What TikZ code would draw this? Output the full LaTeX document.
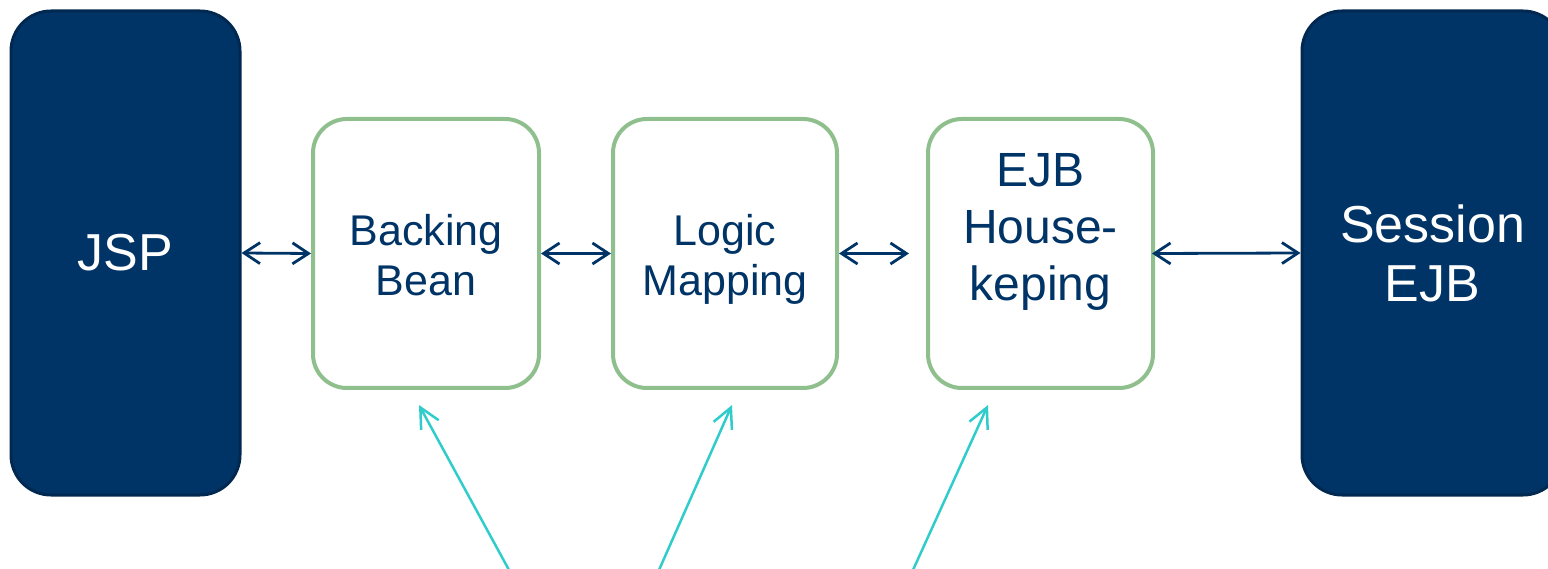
\documentclass[tikz,border=0pt]{standalone}
\usepackage{fontspec}
\setmainfont{Liberation Sans}
\usetikzlibrary{arrows.meta}
\definecolor{navy}{RGB}{0,52,102}
\definecolor{navyedge}{RGB}{0,40,80}
\definecolor{leaf}{RGB}{143,191,140}
\definecolor{aqua}{RGB}{48,204,204}
\tikzset{
  darkbox/.style={draw=navyedge, fill=navy, line width=3pt, rounded corners=40pt,
    text=white, align=center, font=\fontsize{52}{59}\selectfont, inner sep=0pt},
  greenbox/.style={draw=leaf, fill=white, line width=4pt, rounded corners=34pt,
    inner sep=0pt, minimum height=269pt},
  greentext/.style={text=navy, align=center, inner sep=0pt},
  link/.style={draw=navy, line width=2.8pt, {Straight Barb[length=16pt,width=21pt]}-{Straight Barb[length=16pt,width=21pt]}},
  pointer/.style={draw=aqua, line width=2.5pt, -{Straight Barb[length=20pt,width=20pt]}}
}
\begin{document}
\begin{tikzpicture}[x=1pt,y=1pt]
\useasboundingbox (0,0) rectangle (1548,568);
\node[darkbox, minimum width=229pt, minimum height=484pt] (jsp) at (125.5,315) {JSP};
\node[darkbox, minimum width=261pt, minimum height=484pt] (sess) at (1432.5,315) {Session\\EJB};
\node[greenbox, minimum width=226pt] (bb) at (426,314.5) {};
\node[greenbox, minimum width=224pt] (lm) at (725,314.5) {};
\node[greenbox, minimum width=225pt] (ejb) at (1040.5,314.5) {};
\node[greentext, font=\fontsize{43}{50}\selectfont] (bbt) at (426,313) {Backing\\Bean};
\node[greentext, font=\fontsize{43}{50}\selectfont] (lmt) at (725,309) {Logic\\Mapping};
\node[greentext, font=\fontsize{48}{57}\selectfont] (ejbt) at (1040.5,336) {EJB\\House-\\keping};
\draw[link] (jsp.east) -- (bb.west);
\draw[link] (bb.east) -- (lm.west);
\draw[link, shorten >=17pt] (lm.east) -- (ejb.west);
\draw[link, shorten <=-3pt] (ejb.east) -- (sess.west);
\coordinate (b1) at (509,-2);
\coordinate (t1) at (419,163);
\coordinate (b2) at (659,-2);
\coordinate (t2) at (732,163);
\coordinate (b3) at (913,-2);
\coordinate (t3) at (988,163);
\draw[pointer] (b1) -- (t1);
\draw[pointer] (b2) -- (t2);
\draw[pointer] (b3) -- (t3);
\end{tikzpicture}
\end{document}
